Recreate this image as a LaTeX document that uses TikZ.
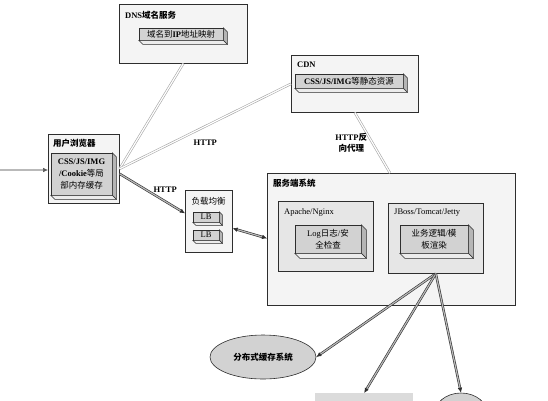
\documentclass[tikz,border=0pt]{standalone}
\usepackage{fontspec}
\setmainfont{Liberation Serif}
\newfontfamily\cjk{Noto Sans CJK SC}
\usepackage{tikz}
\usetikzlibrary{arrows.meta,positioning,calc,shapes.geometric}
\definecolor{ink}{HTML}{2E2E2E}
\definecolor{panelgray}{HTML}{F4F4F4}
\definecolor{innergray}{HTML}{E6E6E6}
\definecolor{facegray}{HTML}{D2D2D2}
\definecolor{sidegray}{HTML}{B5B5B5}
\definecolor{basegray}{HTML}{ECECEC}
\definecolor{wiregray}{HTML}{A6A6A6}
\newcommand{\zh}[1]{{\cjk #1}}
% depth faces of a slab node (right side and bottom)
\newcommand{\slab}[2][4]{%
  \filldraw[fill=sidegray,draw=ink,line width=0.5pt] (#2.north east) -- ++(#1,#1) -- ($(#2.south east)+(#1,#1)$) -- (#2.south east) -- cycle;
  \filldraw[fill=basegray,draw=ink,line width=0.5pt] (#2.south west) -- ++(#1,#1) -- ($(#2.south east)+(#1,#1)$) -- (#2.south east) -- cycle;}

\begin{document}
\begin{tikzpicture}[x=1pt,y=-1pt,every node/.style={font=\fontsize{8.5}{12}\selectfont},panel/.style={draw=ink,fill=panelgray,line width=0.6pt,inner sep=0pt,anchor=north west},face/.style={draw=ink,fill=facegray,line width=0.5pt,inner sep=0pt,align=center},title/.style={inner sep=1pt,font=\fontsize{8.5}{12}\selectfont\bfseries},tag/.style={inner sep=1pt,align=center,font=\fontsize{8.5}{11}\selectfont\bfseries},wire/.style={draw=wiregray,double=white,double distance=1.2pt,line width=0.6pt},link/.style={draw=ink,double=gray!55,double distance=1.2pt,line width=0.6pt,-{Latex[length=5pt,width=4.5pt]}}]
\useasboundingbox (0,0) rectangle (548,400);
\clip (0,0) rectangle (548,400);
% browser
\node[panel,minimum width=71,minimum height=69] (browser) at (48,134) {};
\node[title,below right=4pt and 4pt of browser.north west] (browsertitle) {\zh{用户浏览器}};
\node[face,minimum width=61,minimum height=42] (cache) at (81.5,174) {\textbf{CSS/JS/IMG}\\\textbf{/Cookie}\zh{等局}\\\zh{部内存缓存}};
\slab{cache}
% dns
\node[panel,minimum width=128,minimum height=59] (dns) at (119,4) {};
\node[title,below right=6pt and 5pt of dns.north west] (dnstitle) {DNS\zh{域名服务}};
\node[face,minimum width=84,minimum height=12] (dnsmap) at (181,34) {\zh{域名到}\textbf{IP}\zh{地址映射}};
\slab{dnsmap}
% cdn
\node[panel,minimum width=127,minimum height=57] (cdn) at (291,55) {};
\node[title,below right=6pt and 5pt of cdn.north west] (cdntitle) {CDN};
\node[face,minimum width=108,minimum height=14] (static) at (349,81) {\textbf{CSS/JS/IMG}\zh{等静态资源}};
\slab{static}
% load balancer
\node[panel,minimum width=47,minimum height=62] (lb) at (185,190) {};
\node[inner sep=1pt] (lbtitle) at (208.5,201) {\zh{负载均衡}};
\node[face,minimum width=26,minimum height=10] (lba) at (206,217) {LB};
\slab[3]{lba}
\node[face,minimum width=26,minimum height=10] (lbb) at (206,235) {LB};
\slab[3]{lbb}
% server side
\node[panel,minimum width=248,minimum height=132] (server) at (267,173) {};
\node[title,below right=5pt and 5pt of server.north west] (servertitle) {\zh{服务端系统}};
\node[panel,fill=innergray,minimum width=95,minimum height=70] (apache) at (278,201) {};
\node[inner sep=1pt,below right=6pt and 5pt of apache.north west] (apachetitle) {Apache/Nginx};
\node[face,minimum width=66,minimum height=28] (log) at (328,239) {Log\zh{日志}/\zh{安}\\\zh{全检查}};
\slab[5]{log}
\node[panel,fill=innergray,minimum width=95,minimum height=70] (jboss) at (388,203) {};
\node[inner sep=1pt,below right=5pt and 5pt of jboss.north west] (jbosstitle) {JBoss/Tomcat/Jetty};
\node[face,minimum width=68,minimum height=28] (biz) at (434,239) {\zh{业务逻辑}/\zh{模}\\\zh{板渲染}};
\slab[5]{biz}
% back ends
\node[ellipse,draw=ink,fill=facegray,line width=0.6pt,minimum width=106,minimum height=44] (dcache) at (263,357) {\textbf{\zh{分布式缓存系统}}};
\node[fill=facegray!80,inner sep=0pt,minimum width=98,minimum height=30,anchor=north west] (dbbox) at (315,393) {};
\node[ellipse,draw=ink,fill=facegray,line width=0.6pt,minimum width=54,minimum height=44] (store) at (461,415) {};
% connectors
\coordinate (in) at (0,170);
\draw[link,draw=gray!70!black] (in) -- (in -| browser.west);
\draw[wire] (browser.east) -- (dns.south);
\draw[wire] (browser.east) -- node[tag,pos=.5,below=12pt]{HTTP} (cdn.west);
\draw[wire] (cdn.south) -- node[tag,midway,left=4pt]{HTTP\zh{反}\\\zh{向代理}} ($(server.north west)+(123,0)$);
\draw[link] ($(browser.east)+(0,5)$) -- node[tag,pos=.5,anchor=south west]{HTTP} ($(lb.west)+(0,-8)$);
\draw[link,{Latex[length=5pt,width=4.5pt]}-{Latex[length=5pt,width=4.5pt]}] ($(lb.east)+(0,7)$) -- ($(server.west)+(0,-1)$);
\draw[link] (jboss.south) -- (dcache.east);
\draw[link] (jboss.south) -- (dbbox.north);
\draw[link] (jboss.south) -- (store.north);
\end{tikzpicture}
\end{document}
